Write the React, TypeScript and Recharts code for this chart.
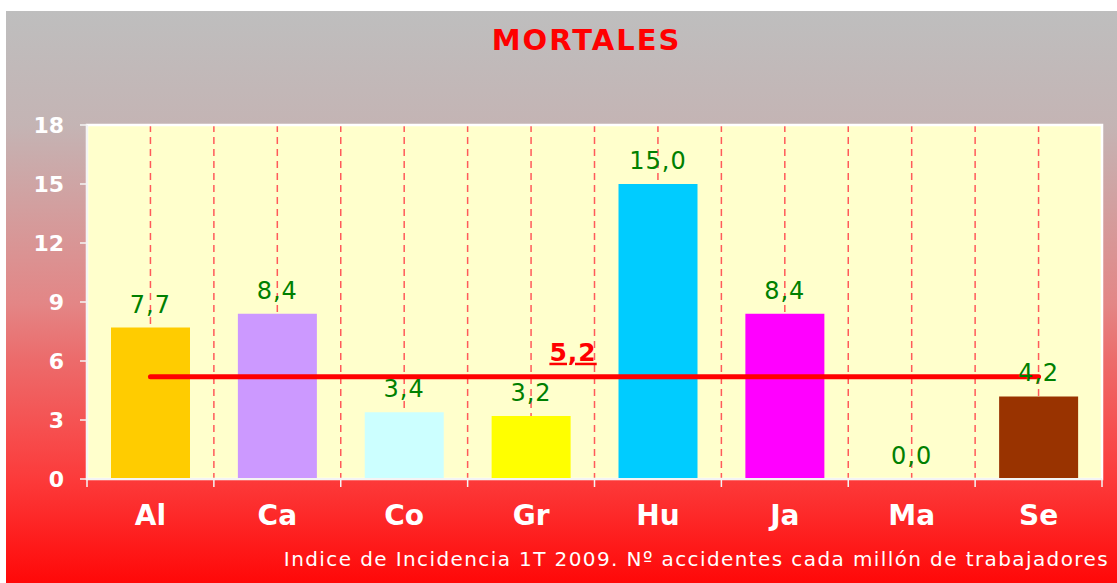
import { BarChart, Bar, Line, XAxis, YAxis, CartesianGrid, Cell } from "recharts";

const categories = ["Al", "Ca", "Co", "Gr", "Hu", "Ja", "Ma", "Se"];
const values = [7.7, 8.4, 3.4, 3.2, 15.0, 8.4, 0.0, 4.2];
const barColors = ["#ffcc00", "#cc99ff", "#ccffff", "#ffff00", "#00ccff", "#ff00ff", "#ffffff", "#993300"];
const mean = 5.2;
const yTicks = [0, 3, 6, 9, 12, 15, 18];

const data = categories.map((name, i) => ({ name, value: values[i], media: mean }));

const W = 1111;
const H = 572;
const margin = { top: 114, right: 15, left: 0, bottom: 54 };
const yAxisWidth = 81;
const plotW = W - margin.left - margin.right - yAxisWidth;
const halfBand = plotW / categories.length / 2;
const FONT = "DejaVu Sans, Verdana, sans-serif";

const fmt = (v: any) => Number(v).toFixed(1).replace(".", ",");

const XTick = ({ x, y, payload, index }: any) => (
  <g>
    <text x={x} y={y + 46} textAnchor="middle" fill="#fff" fontSize={28} fontWeight="bold" fontFamily={FONT}>
      {payload.value}
    </text>
    <line x1={x - halfBand} x2={x - halfBand} y1={y} y2={y + 8} stroke="#f4f4f4" strokeWidth={1.5} />
    {index === categories.length - 1 && (
      <line x1={x + halfBand} x2={x + halfBand} y1={y} y2={y + 8} stroke="#f4f4f4" strokeWidth={1.5} />
    )}
  </g>
);

// value labels drawn from the bar values (also shows the zero value)
const valueLabel = ({ x, y, value, index }: any) => (
  <text
    key={`v-${index}`}
    x={x}
    y={y - 15}
    textAnchor="middle"
    fill="#008000"
    fontSize={24}
    letterSpacing={1}
    fontFamily={FONT}
  >
    {fmt(value)}
  </text>
);

const meanLabel = ({ x, y, index }: any) =>
  index === 3 ? (
    <text
      key="mean"
      x={x + 42}
      y={y - 16}
      textAnchor="middle"
      fill="#ff0000"
      fontSize={25}
      fontWeight="bold"
      letterSpacing={1}
      fontFamily={FONT}
      textDecoration="underline"
    >
      {fmt(mean)}
    </text>
  ) : null;

export default function App() {
  return (
    <div
      style={{
        position: "absolute",
        left: 6,
        top: 11,
        width: W,
        height: H,
        fontFamily: FONT,
        background:
          "linear-gradient(to bottom, #bebebe 0%, #c4b4b4 20%, #e38686 51%, #ec6b6b 61%, #f55252 72%, #fc3a3a 82%, #ff0808 100%)",
      }}
    >
      <div
        style={{
          position: "absolute",
          left: yAxisWidth - 8,
          width: plotW,
          top: 12,
          textAlign: "center",
          color: "#ff0000",
          fontWeight: "bold",
          fontSize: 29,
          letterSpacing: 2,
        }}
      >
        MORTALES
      </div>
      <BarChart width={W} height={H} data={data} margin={margin} barSize={79}>
        <CartesianGrid
          fill="#ffffcc"
          horizontal={false}
          stroke="#ff5a5a"
          strokeWidth={1.5}
          strokeDasharray="7 5"
          verticalCoordinatesGenerator={({ offset }: any) =>
            Array.from({ length: categories.length * 2 - 1 }, (_, k) => offset.left + (offset.width * (k + 1)) / (categories.length * 2))
          }
        />
        <rect
          x={yAxisWidth}
          y={margin.top}
          width={plotW}
          height={H - margin.top - margin.bottom - 50}
          fill="none"
          stroke="#ffffff"
          strokeWidth={2.5}
        />
        <XAxis
          dataKey="name"
          height={50}
          tickLine={false}
          tickSize={0}
          tickMargin={0}
          axisLine={{ stroke: "#f4f4f4", strokeWidth: 2 }}
          tick={<XTick />}
          interval={0}
        />
        <YAxis
          width={yAxisWidth}
          domain={[0, 18]}
          ticks={yTicks}
          interval={0}
          axisLine={{ stroke: "#f4f4f4", strokeWidth: 2 }}
          tickLine={{ stroke: "#f4f4f4", strokeWidth: 1.5 }}
          tickSize={7}
          tickMargin={16}
          tick={{ fill: "#ffffff", fontSize: 22, fontWeight: "bold", fontFamily: FONT }}
        />
        <Bar dataKey="value" isAnimationActive={false}>
          {data.map((d, i) => (
            <Cell key={d.name} fill={barColors[i]} />
          ))}
        </Bar>
        <Line
          dataKey="media"
          stroke="#ff0000"
          strokeWidth={5}
          strokeLinecap="round"
          dot={false}
          activeDot={false}
          isAnimationActive={false}
          label={meanLabel}
        />
        <Line
          dataKey="value"
          stroke="none"
          dot={false}
          activeDot={false}
          isAnimationActive={false}
          label={valueLabel}
        />
      </BarChart>
      <div
        style={{
          position: "absolute",
          right: 8,
          top: 536,
          color: "#ffffff",
          fontSize: 20,
          letterSpacing: 1.4,
          whiteSpace: "nowrap",
        }}
      >
        Indice de Incidencia 1T 2009. Nº accidentes cada millón de trabajadores
      </div>
    </div>
  );
}
